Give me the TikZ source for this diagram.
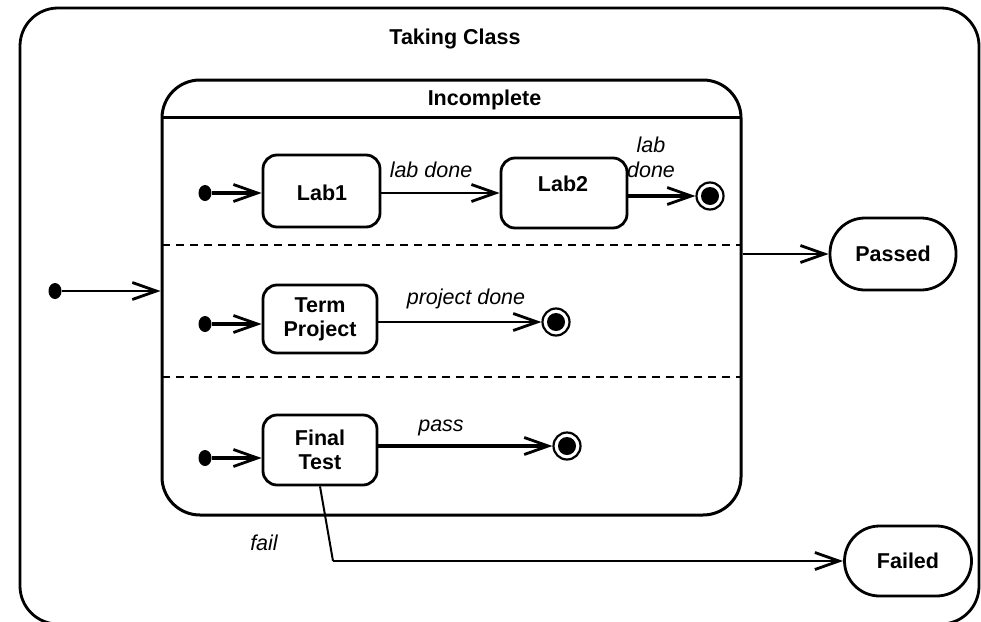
\documentclass[tikz,border=0pt]{standalone}
\usepackage{fontspec}
\setmainfont{Liberation Sans}
\usetikzlibrary{arrows.meta,shapes.geometric}
\newcommand{\boldtxt}{\bfseries\fontsize{21.5}{24}\selectfont}
\newcommand{\evttxt}{\itshape\fontsize{21.5}{25}\selectfont}
\begin{document}
\begin{tikzpicture}[x=1pt,y=-1pt,
  statebox/.style={draw,line width=2.8pt,rounded corners=14pt,align=center,
    inner sep=0pt,font=\boldtxt},
  outcome/.style={draw,line width=2.8pt,rounded corners=35pt,inner sep=0pt,
    font=\boldtxt},
  startdot/.style={fill=black,ellipse,inner sep=0pt,minimum width=13pt,minimum height=16pt},
  enddot/.style={draw,circle,line width=2.2pt,minimum size=27pt,inner sep=0pt,
    path picture={\fill (path picture bounding box.center) circle (9pt);}},
  trans/.style={line width=2pt,-{Straight Barb[length=24pt,width=17pt,line width=2.8pt]}},
  heavy/.style={trans,line width=3.6pt},
  evt/.style={font=\evttxt,align=center,inner sep=0pt},
  title/.style={font=\boldtxt,inner sep=0pt},
  region/.style={dashed,dash pattern=on 8pt off 6pt,line width=2.6pt}
]
\useasboundingbox (0,0) rectangle (981,621);

% enclosing composite state, its bottom edge lies just below the page
\begin{scope}
  \clip (0,0) rectangle (981,621);
  \draw[line width=2.8pt,rounded corners=38pt] (20,8) rectangle (979,624);
\end{scope}
\node[title] (tc) at (455,39) {Taking Class};

% the concurrent composite state with its name compartment
\node[draw,line width=3pt,rounded corners=38pt,minimum width=579pt,
      minimum height=435pt,inner sep=0pt] (inc) at (451.5,297.5) {};
\coordinate (hdl) at (162,117);
\coordinate (hdr) at (741,117);
\draw[line width=3pt] (hdl) -- (hdr);
\node[title] (inct) at (484.5,100) {Incomplete};

% region separators
\coordinate (d1l) at (162,245);
\coordinate (d1r) at (741,245);
\coordinate (d2l) at (162,377);
\coordinate (d2r) at (741,377);
\draw[region] (d1l) -- (d1r);
\draw[region] (d2l) -- (d2r);

% region 1: labs
\node[startdot] (s1) at (205,193) {};
\node[statebox,minimum width=117pt,minimum height=72pt] (lab1) at (321.5,191) {};
\node[font=\boldtxt,inner sep=0pt] (lab1t) at (322,193) {Lab1};
\node[statebox,minimum width=126pt,minimum height=70pt] (lab2) at (564,193) {};
\node[font=\boldtxt,inner sep=0pt] (lab2t) at (563,184) {Lab2};
\node[enddot] (e1) at (710,196) {};
\draw[heavy] (s1) -- (s1 -| lab1.west);
\draw[trans,line width=2.8pt] (lab1.east |- 0,193) -- (lab2.west |- 0,193);
\node[evt] (l1) at (431,170) {lab done};
\draw[heavy] (lab2.east |- e1) -- (e1);
\node[evt] (l2) at (651,157) {lab\\done};

% region 2: project
\node[startdot] (s2) at (205,324) {};
\node[statebox,minimum width=114pt,minimum height=68pt] (tp) at (320,319) {Term\\Project};
\node[enddot] (e2) at (556,322) {};
\draw[heavy] (s2) -- (s2 -| tp.west);
\draw[trans] (tp.east |- e2) -- (e2);
\node[evt] (l3) at (466,299) {project done};

% region 3: final test
\node[startdot] (s3) at (205,458) {};
\node[statebox,minimum width=114pt,minimum height=70pt] (ft) at (320,450) {Final\\Test};
\node[enddot] (e3) at (567,446) {};
\draw[heavy] (s3) -- (s3 -| ft.west);
\draw[heavy] (ft.east |- e3) -- (e3);
\node[evt] (l4) at (441,428) {pass};

% outer transitions
\node[startdot] (s0) at (55,291) {};
\draw[trans] (s0) -- (s0 -| inc.west);

\node[outcome,minimum width=126pt,minimum height=72pt] (passed) at (893,254) {Passed};
\draw[trans] (passed -| inc.east) -- (passed.west);

\node[outcome,minimum width=127pt,minimum height=70pt] (failed) at (908,561) {Failed};
\coordinate (fbend) at (333,561);
\draw[line width=2pt] (ft.south) -- (fbend);
\draw[trans] (fbend) -- (failed.west);
\node[evt] (l5) at (264,543) {fail};
\end{tikzpicture}
\end{document}
